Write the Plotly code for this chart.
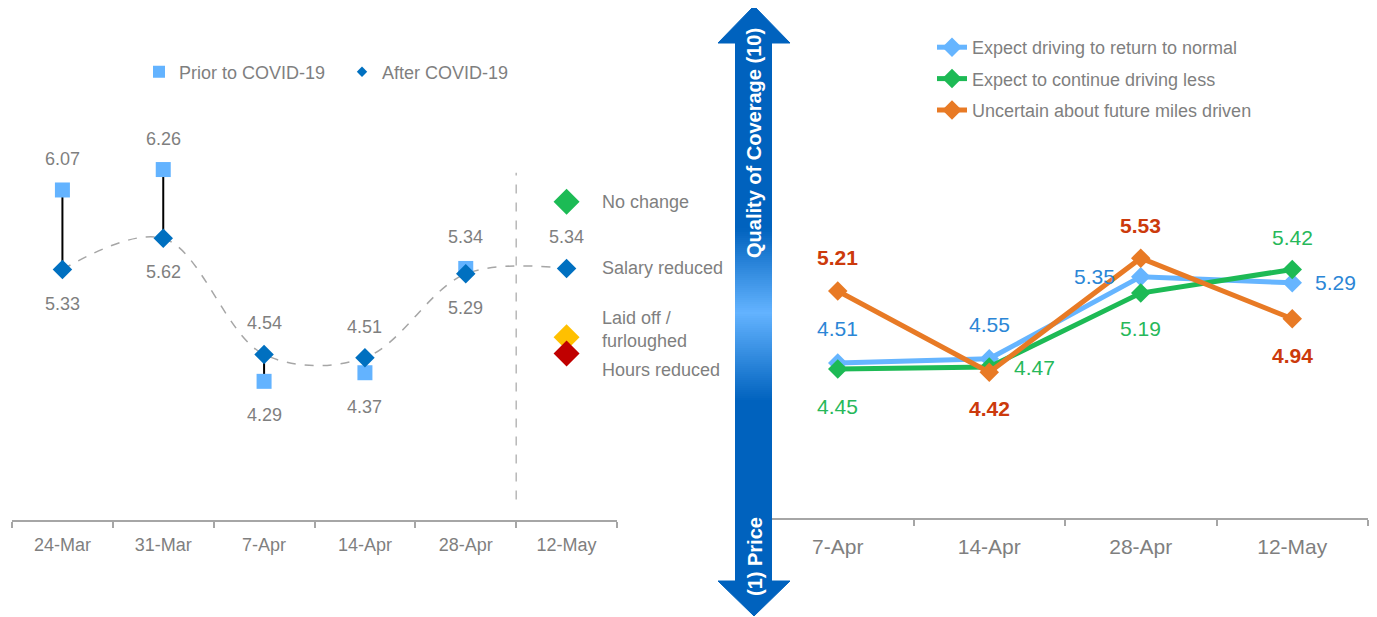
import plotly.graph_objects as go

W, H = 1377, 617
OFF = 8                      # page body margin of the browser
FW, FH = W - OFF, H - OFF    # figure size that fits the window
FONT = "Arial, Liberation Sans, sans-serif"
GREY = "#7f7f7f"

# ---- left chart: rating prior to / after COVID-19 ----
left_dates = ["24-Mar", "31-Mar", "7-Apr", "14-Apr", "28-Apr", "12-May"]
prior_covid = [6.07, 6.26, 4.29, 4.37, 5.34, None]
after_covid = [5.33, 5.62, 4.54, 4.51, 5.29, 5.34]
prior_label_side = [1, 1, -1, -1, 1, 0]   # 1 = above, -1 = below
after_label_side = [-1, -1, 1, 1, -1, 1]

# key of employment status shown in the 12-May column
status_names = ["No change", "Salary reduced", "Laid off /<br>furloughed", "Hours reduced"]
status_colors = ["#1cbb55", "#0070c0", "#ffc000", "#c00000"]
status_marker_y = [5.96, None, 4.70, 4.55]
status_text_y = [5.96, 5.34, 4.77, 4.40]

# ---- right chart: expectation about miles driven ----
right_dates = ["7-Apr", "14-Apr", "28-Apr", "12-May"]
driving_normal = [4.51, 4.55, 5.35, 5.29]
driving_less = [4.45, 4.47, 5.19, 5.42]
uncertain_miles = [5.21, 4.42, 5.53, 4.94]
series_names = ["Expect driving to return to normal", "Expect to continue driving less",
                "Uncertain about future miles driven"]
line_colors = ["#66b5ff", "#1dba55", "#e87a25"]
label_colors = ["#2b86d6", "#27b85a", "#cc3a0c"]
label_shift = [
    [(0, 34), (0, 34), (-46, 0), (43, 0)],
    [(0, -37), (45, 0), (0, -35), (0, 32)],
    [(0, 34), (0, -36), (0, 33), (0, -37)],
]


def px_x(x):
    return (x - OFF) / FW


def px_y(y):
    return 1 - (y - OFF) / FH


fig = go.Figure()

# connectors prior -> after
cx, cy = [], []
for d, p, a in zip(left_dates, prior_covid, after_covid):
    if p is not None:
        cx += [d, d, None]
        cy += [p, a, None]
fig.add_trace(go.Scatter(x=cx, y=cy, mode="lines", line=dict(color="black", width=2),
                         showlegend=False, hoverinfo="skip"))
# smoothed dashed trend through after values
fig.add_trace(go.Scatter(x=left_dates, y=after_covid, mode="lines",
                         line=dict(color="#a6a6a6", width=1.5, dash="dash", shape="spline"),
                         showlegend=False, hoverinfo="skip"))
fig.add_trace(go.Scatter(x=left_dates, y=prior_covid, mode="markers",
                         marker=dict(symbol="square", size=15, color="#63b3ff"),
                         name="Prior to COVID-19", showlegend=False))
fig.add_trace(go.Scatter(x=left_dates, y=after_covid, mode="markers",
                         marker=dict(symbol="diamond", size=15, color="#0070c0"),
                         name="After COVID-19", showlegend=False))
# legend proxies
fig.add_trace(go.Scatter(x=[None], y=[None], mode="markers", name="Prior to COVID-19",
                         marker=dict(symbol="square", size=12, color="#63b3ff"), legend="legend"))
fig.add_trace(go.Scatter(x=[None], y=[None], mode="markers", name="After COVID-19",
                         marker=dict(symbol="diamond", size=8, color="#0070c0"), legend="legend"))

# status key markers
for name, col, yv in zip(status_names, status_colors, status_marker_y):
    if yv is not None:
        fig.add_trace(go.Scatter(x=["12-May"], y=[yv], mode="markers", showlegend=False,
                                 marker=dict(symbol="diamond", size=20, color=col),
                                 hoverinfo="skip"))

annotations = []
for d, p, a, sp, sa in zip(left_dates, prior_covid, after_covid, prior_label_side, after_label_side):
    for v, s in ((p, sp), (a, sa)):
        if v is not None and s != 0:
            annotations.append(dict(x=d, y=v, xref="x", yref="y", text=f"{v:.2f}",
                                    showarrow=False, yshift=31 if s > 0 else -34,
                                    font=dict(size=18, color=GREY, family=FONT)))
for name, yv in zip(status_names, status_text_y):
    annotations.append(dict(x="12-May", y=yv, xref="x", yref="y", text=name, align="left",
                            showarrow=False, xanchor="left", xshift=33,
                            font=dict(size=18, color=GREY, family=FONT)))

# right chart traces
for i, (vals, name, lc, tc, shifts) in enumerate(zip(
        [driving_normal, driving_less, uncertain_miles],
        series_names, line_colors, label_colors, label_shift)):
    fig.add_trace(go.Scatter(x=right_dates, y=vals, mode="lines+markers", name=name,
                             xaxis="x2", yaxis="y2", legend="legend2", legendgroup=f"g{i}",
                             line=dict(color=lc, width=5),
                             marker=dict(symbol="diamond", size=15, color=lc)))
    bold = i == 2
    for d, v, (dx, dy) in zip(right_dates, vals, shifts):
        annotations.append(dict(x=d, y=v, xref="x2", yref="y2",
                                text=f"<b>{v:.2f}</b>" if bold else f"{v:.2f}",
                                showarrow=False, xshift=dx, yshift=dy,
                                font=dict(size=21, color=tc, family=FONT)))

# double-headed arrow between the charts (drawn in page pixels on an overlay axis)
DARK, LIGHT = "#0062be", "#63b3ff"
head_x = [754, 790, 718, 754, None, 718, 790, 754, 718]
head_y = [6, 43, 43, 6, None, 581, 581, 616, 581]
fig.add_trace(go.Scatter(x=head_x, y=head_y, xaxis="x3", yaxis="y3", mode="lines",
                         fill="toself", fillcolor=DARK, line=dict(width=1, color=DARK),
                         showlegend=False, hoverinfo="skip"))
band_edges = list(range(42, 584, 2))
band_mid = [[(a + b) / 2] for a, b in zip(band_edges[:-1], band_edges[1:])]
fig.add_trace(go.Heatmap(
    x=[735, 772], y=band_edges, z=band_mid, xaxis="x3", yaxis="y3",
    zmin=0, zmax=H, showscale=False, hoverinfo="skip",
    colorscale=[[0, DARK], [0.37, DARK], [0.507, LIGHT], [0.65, DARK], [1, DARK]],
))
annotations.append(dict(x=px_x(754), y=px_y(143), xref="paper", yref="paper",
                        xanchor="center", yanchor="middle",
                        text="<b>Quality of Coverage (10)</b>", textangle=-90, showarrow=False,
                        font=dict(size=20, color="white", family=FONT)))
annotations.append(dict(x=px_x(755), y=px_y(557), xref="paper", yref="paper",
                        xanchor="center", yanchor="middle",
                        text="<b>(1) Price</b>", textangle=-90, showarrow=False,
                        font=dict(size=20, color="white", family=FONT)))

xstyle = dict(type="category", showline=True, linecolor="#a6a6a6", linewidth=2,
              ticks="outside", tickson="boundaries", ticklen=6, tickcolor="#a6a6a6",
              tickwidth=2, showgrid=False, zeroline=False, fixedrange=True)

fig.update_layout(
    width=FW, height=FH,
    margin=dict(l=0, r=0, t=0, b=0),
    paper_bgcolor="white", plot_bgcolor="rgba(0,0,0,0)",
    font=dict(family=FONT, color=GREY),
    xaxis=dict(**xstyle, domain=[px_x(12), px_x(617)], anchor="y", range=[-0.5, 5.5],
               tickfont=dict(size=18, color=GREY), ticklabelstandoff=7),
    yaxis=dict(domain=[px_y(520), 1], range=[3, 3 + 512 / 107.5], visible=False, anchor="x"),
    xaxis2=dict(**xstyle, domain=[px_x(762), px_x(1368)], anchor="y2", range=[-0.5, 3.5],
                tickfont=dict(size=21, color=GREY), ticklabelstandoff=9),
    yaxis2=dict(domain=[px_y(518), 1], range=[3, 3 + 510 / 102.7], visible=False, anchor="x2"),
    xaxis3=dict(domain=[0, 1], range=[OFF, W], visible=False, anchor="y3"),
    yaxis3=dict(domain=[0, 1], range=[H, OFF], visible=False, anchor="x3"),
    legend=dict(orientation="h", x=px_x(139), y=px_y(72), xanchor="left", yanchor="middle",
                font=dict(size=18, color=GREY), bgcolor="rgba(0,0,0,0)", entrywidth=158),
    legend2=dict(orientation="v", x=px_x(932), y=px_y(29), xanchor="left", yanchor="top",
                 font=dict(size=18, color=GREY), bgcolor="rgba(0,0,0,0)",
                 traceorder="grouped", tracegroupgap=5),
    annotations=annotations,
    showlegend=True,
)

fig.add_shape(type="line", xref="x", yref="y", x0=4.5, x1=4.5, y0=3.19, y1=6.23,
              line=dict(color="#a6a6a6", width=1.2, dash="dash"))

fig.write_html("out.html")
